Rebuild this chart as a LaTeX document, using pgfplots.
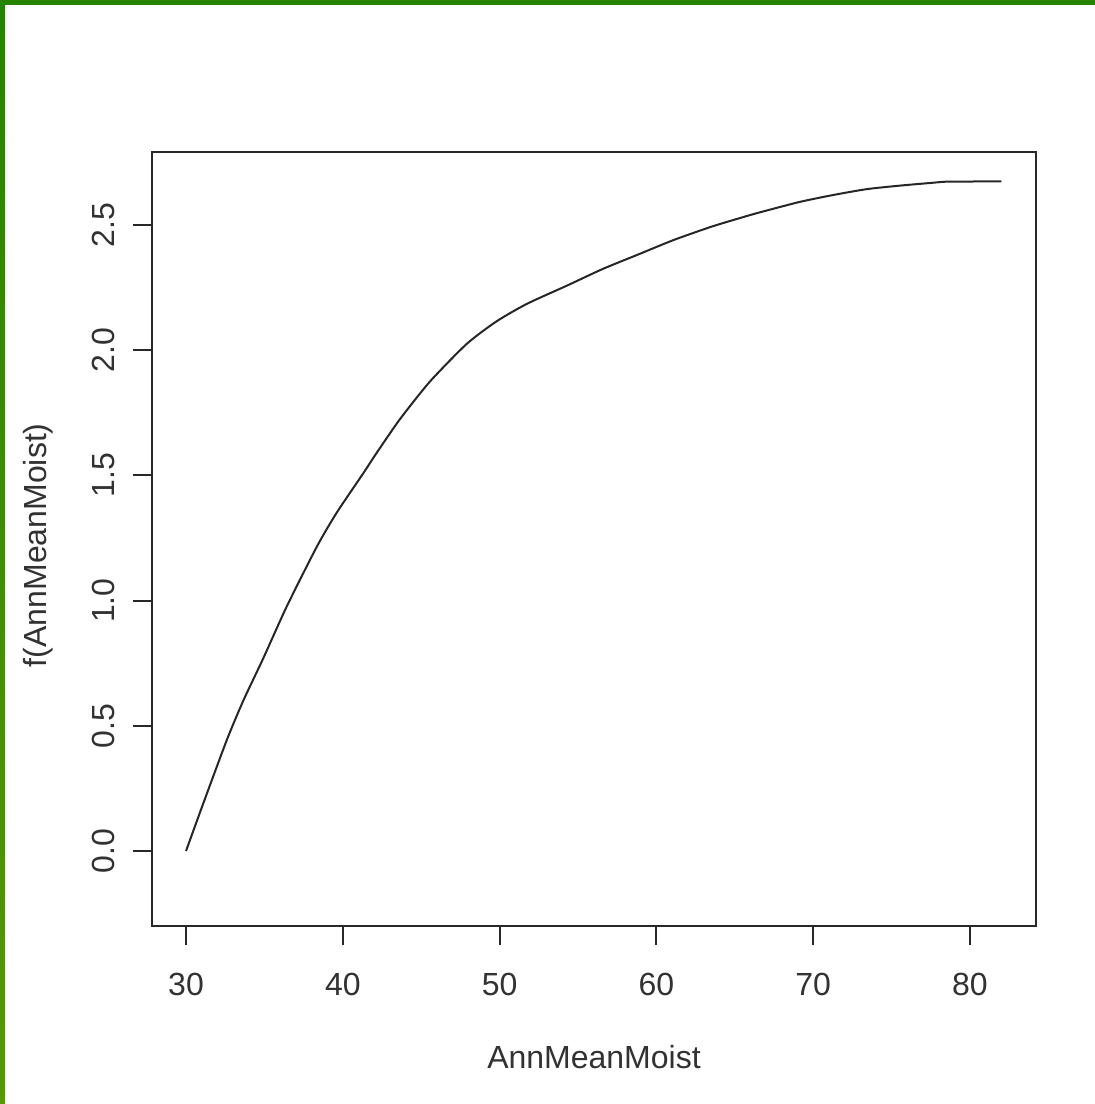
\documentclass[border=0pt]{standalone}
\usepackage{fontspec}
\setmainfont{Liberation Sans}
\usepackage{pgfplots}
\pgfplotsset{compat=1.18}
\definecolor{axgray}{RGB}{40,40,40}
\definecolor{txtgray}{RGB}{50,50,50}
\definecolor{gtop}{RGB}{38,132,0}
\definecolor{gbot}{RGB}{88,152,0}
\begin{document}
\begin{tikzpicture}
\useasboundingbox (0,0) rectangle (547.5pt,552pt);
\fill[white] (0,0) rectangle (547.5pt,552pt);
\begin{axis}[
  at={(76pt,89pt)}, anchor=south west,
  width=442pt, height=387pt, scale only axis,
  xmin=27.83, xmax=84.21, ymin=-0.2995, ymax=2.7915,
  axis line style={axgray, line width=1pt},
  xtick={30,40,50,60,70,80},
  ytick={0,0.5,1,1.5,2,2.5},
  xtick pos=bottom, ytick pos=left,
  tick align=outside, major tick length=9.5pt,
  tick style={axgray, line width=1pt},
  /pgf/number format/assume math mode=true,
  yticklabel style={/pgf/number format/fixed, /pgf/number format/fixed zerofill, /pgf/number format/precision=1},
  ticklabel style={font=\fontsize{16}{19}\selectfont, text=txtgray, inner sep=0pt},
  xticklabel style={anchor=base, yshift=-25pt},
  yticklabel style={anchor=base, xshift=-9pt, rotate=90},
  every axis x label/.style={at={(axis description cs:0.5,-0.1835)}, anchor=base, font=\fontsize{16}{19}\selectfont, text=txtgray, inner sep=0pt},
  every axis y label/.style={at={(axis description cs:-0.1188,0.492)}, anchor=base, rotate=90, font=\fontsize{16}{19}\selectfont, text=txtgray, inner sep=0pt},
  xlabel={AnnMeanMoist},
  ylabel={f(AnnMeanMoist)},
]
\addplot[black!85, line width=1pt, smooth, tension=0.4] coordinates {
(30,0) (31.1,0.19) (32.6,0.443) (33.65,0.60) (34.93,0.77) (36.42,0.976)
(38.34,1.215) (39.6,1.35) (41.3,1.508) (42.16,1.59) (43.65,1.725) (45.56,1.875)
(47.9,2.025) (49.8,2.115) (51.74,2.185) (54.3,2.258) (56.6,2.325) (58.95,2.385)
(61.1,2.44) (63.6,2.495) (66,2.54) (67.05,2.558) (69.2,2.593) (71.3,2.62)
(73.4,2.643) (75.5,2.657) (77.7,2.669) (78.6,2.673) (82,2.674)
};
\end{axis}
\shade[top color=gtop, bottom color=gbot] (0,0) rectangle (2.5pt,552pt);
\fill[gtop] (0,549.5pt) rectangle (547.5pt,552pt);
\end{tikzpicture}
\end{document}
